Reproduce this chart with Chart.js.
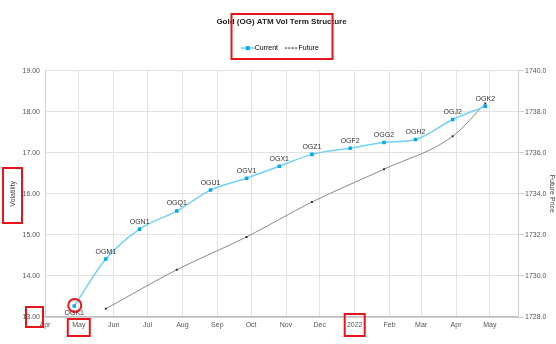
<!DOCTYPE html>
<html>
<head>
<meta charset="utf-8">
<script src="https://cdn.jsdelivr.net/npm/chart.js@4/dist/chart.umd.min.js"></script>
<style>
  html,body{margin:0;padding:0;background:#fff;}
  #wrap{width:556px;height:344px;}
</style>
</head>
<body>
<div id="wrap"><canvas id="c" width="556" height="344"></canvas></div>
<script>
// option expiries and ATM vols
const curDates = ['2021-04-27','2021-05-25','2021-06-24','2021-07-27','2021-08-26','2021-09-27','2021-10-26','2021-11-24','2021-12-28','2022-01-27','2022-02-24','2022-03-29','2022-04-27'];
const curLabels = ['OGK1','OGM1','OGN1','OGQ1','OGU1','OGV1','OGX1','OGZ1','OGF2','OGG2','OGH2','OGJ2','OGK2'];
const curVols = [13.27, 14.41, 15.14, 15.58, 16.09, 16.38, 16.67, 16.96, 17.11, 17.25, 17.32, 17.81, 18.13];

const futDates = ['2021-05-25','2021-07-27','2021-09-27','2021-11-24','2022-01-27','2022-03-29','2022-04-27'];
const futPrices = [1728.4, 1730.3, 1731.9, 1733.6, 1735.2, 1736.8, 1738.4];

const tickDates = ['2021-04-01','2021-05-01','2021-06-01','2021-07-01','2021-08-01','2021-09-01','2021-10-01','2021-11-01','2021-12-01','2022-01-01','2022-02-01','2022-03-01','2022-04-01','2022-05-01'];
const tickLabels = ['Apr','May','Jun','Jul','Aug','Sep','Oct','Nov','Dec','2022','Feb','Mar','Apr','May'];

const ts = s => Date.parse(s + 'T00:00:00Z');
const FONT = "'Liberation Sans Narrow', 'Liberation Sans', Arial, sans-serif";

function legendIcon(color, marker, dashed){
  const c = document.createElement('canvas');
  c.width = 14; c.height = 6;
  const g = c.getContext('2d');
  g.strokeStyle = color; g.lineWidth = 1.5;
  if(dashed) g.setLineDash([2,1.5]);
  g.beginPath(); g.moveTo(0,3); g.lineTo(14,3); g.stroke();
  if(marker){ g.fillStyle = marker; g.fillRect(5,1,4,4); }
  return c;
}
const iconCur = legendIcon('#6fd0f6', '#08a8ea', false);
const iconFut = legendIcon('#444', null, true);

// extra room below the legend
const legendGap = {
  id:'legendGap',
  beforeInit(chart){
    const fit = chart.legend.fit;
    chart.legend.fit = function(){ fit.call(this); this.height += 9; };
  }
};

const pointLabels = {
  id:'pointLabels',
  afterDatasetsDraw(chart){
    const ctx = chart.ctx;
    const meta = chart.getDatasetMeta(0);
    ctx.save();
    ctx.font = '7px ' + FONT;
    ctx.fillStyle = '#333';
    ctx.textAlign = 'center';
    meta.data.forEach((p,i) => {
      if(i === 0){ ctx.textBaseline = 'top'; ctx.fillText(curLabels[i], p.x, p.y + 4); }
      else { ctx.textBaseline = 'bottom'; ctx.fillText(curLabels[i], p.x, p.y - 4); }
    });
    ctx.restore();
  }
};

// red annotation marks drawn on top of the original picture
const marks = {
  id:'marks',
  afterDraw(chart){
    const ctx = chart.ctx;
    const x = chart.scales.x, y = chart.scales.y;
    const ca = chart.chartArea;
    const cx = (ca.left + ca.right)/2;
    ctx.save();
    ctx.strokeStyle = '#e8141c';
    ctx.lineWidth = 2;
    ctx.strokeRect(cx - 50, 14, 101, 45);
    ctx.strokeRect(3, 168, 19, 55);
    const y13 = y.getPixelForValue(13);
    ctx.strokeRect(26, y13 - 10, 17, 20);
    const xMay = x.getPixelForValue(ts(tickDates[1]));
    ctx.strokeRect(xMay - 11, ca.bottom + 2, 22, 17);
    const x22 = x.getPixelForValue(ts(tickDates[9]));
    ctx.strokeRect(x22 - 10, ca.bottom - 3, 20, 22);
    const p0 = chart.getDatasetMeta(0).data[0];
    ctx.beginPath(); ctx.arc(p0.x + 0.5, p0.y - 0.5, 6.5, 0, Math.PI*2); ctx.stroke();
    ctx.restore();
  }
};

new Chart(document.getElementById('c'), {
  type:'line',
  data:{
    datasets:[
      {label:'Current', data: curDates.map((d,i)=>({x:ts(d), y:curVols[i]})), yAxisID:'y',
       borderColor:'#72d2f7', borderWidth:1.5, backgroundColor:'#08a8ea',
       pointStyle:'rect', pointRadius:2.5, pointBorderWidth:0, cubicInterpolationMode:'monotone'},
      {label:'Future', data: futDates.map((d,i)=>({x:ts(d), y:futPrices[i]})), yAxisID:'y2',
       borderColor:'#8a8a8a', borderWidth:1, backgroundColor:'#333',
       pointStyle:'rect', pointRadius:1.4, pointBorderWidth:0, cubicInterpolationMode:'monotone'}
    ]
  },
  options:{
    responsive:false, animation:false,
    layout:{padding:{top:0, right:0, left:0, bottom:0}},
    plugins:{
      title:{display:true, text:'Gold (OG) ATM Vol Term Structure', fullSize:false, color:'#222',
        font:{family:FONT, size:8, weight:'bold'}, padding:{top:17, bottom:8}},
      legend:{fullSize:false,
        labels:{usePointStyle:true, color:'#333', font:{family:FONT, size:7}, padding:10,
          generateLabels:(chart)=>[
            {text:'Current', pointStyle:iconCur, fillStyle:'#fff', strokeStyle:'#fff', lineWidth:0, datasetIndex:0},
            {text:'Future', pointStyle:iconFut, fillStyle:'#fff', strokeStyle:'#fff', lineWidth:0, datasetIndex:1}
          ]}},
      tooltip:{enabled:false}
    },
    scales:{
      x:{type:'linear', min:ts('2021-04-01'), max:ts('2022-05-26'),
        afterBuildTicks(s){ s.ticks = tickDates.map(d=>({value:ts(d)})); },
        afterFit(s){ s.height = 27; },
        ticks:{autoSkip:false, maxRotation:0, color:'#555', font:{family:FONT, size:7}, padding:4,
          callback:(v,i)=>tickLabels[i]},
        grid:{color:'#e2e2e2', drawTicks:false},
        border:{color:'#bdbdbd', width:1.5}},
      y:{position:'left', min:13, max:19,
        afterFit(s){ s.width = 45; },
        ticks:{stepSize:1, color:'#555', font:{family:FONT, size:7}, padding:5, callback:v=>v.toFixed(2)},
        grid:{color:'#e2e2e2', drawTicks:false},
        border:{color:'#d0d0d0'},
        title:{display:true, text:'Volatility', color:'#444', font:{family:FONT, size:7}, padding:{top:9,bottom:0}}},
      y2:{position:'right', min:1728, max:1740,
        afterFit(s){ s.width = 38; },
        ticks:{stepSize:2, color:'#555', font:{family:FONT, size:7}, padding:1, callback:v=>v.toFixed(1)},
        grid:{drawOnChartArea:false, color:'#cfcfcf', tickLength:6},
        border:{color:'#d0d0d0'},
        title:{display:true, text:'Future Price', color:'#444', font:{family:FONT, size:7}, padding:{top:0,bottom:5}}}
    }
  },
  plugins:[legendGap, pointLabels, marks]
});
</script>
</body>
</html>
